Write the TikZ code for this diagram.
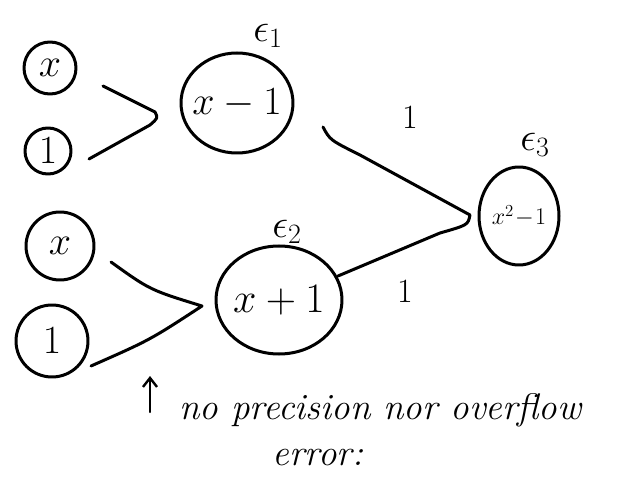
\RequirePackage{fix-cm}
\documentclass[tikz,border=0pt]{standalone}
\usetikzlibrary{arrows.meta,shapes.geometric}
\begin{document}
\begin{tikzpicture}[x=1pt,y=-1pt,
  pen/.style={line width=3pt,line cap=round,line join=round},
  inp/.style={pen,draw,circle,inner sep=0pt,font=\fontsize{40}{42}\selectfont},
  op/.style={pen,draw,ellipse,inner sep=0pt,font=\fontsize{40}{42}\selectfont},
  lbl/.style={font=\fontsize{40}{42}\selectfont},
  wt/.style={font=\fontsize{34}{36}\selectfont},
  note/.style={font=\fontsize{37}{39}\selectfont\itshape}]
\useasboundingbox (0,0) rectangle (622,484);
% inputs
\node[inp,minimum size=52pt] (x1) at (50,68) {$x$};
\node[inp,minimum size=46pt] (o1) at (48,151) {$1$};
\node[inp,minimum size=68pt] (x2) at (60,246) {$x$};
\node[inp,minimum size=72pt] (o2) at (52,341) {$1$};
% operations
\node[op,inner xsep=-7pt,minimum width=112pt,minimum height=100pt] (m1) at (237,103) {$x-1$};
\node[op,inner xsep=-6pt,minimum width=126pt,minimum height=108pt,font=\fontsize{42}{44}\selectfont] (p1) at (279,300) {$x+1$};
\node[op,inner xsep=-4pt,minimum width=80pt,minimum height=98pt,font=\fontsize{24}{26}\selectfont] (r) at (519,216) {$x^2\!-\!1$};
% error labels
\node[lbl] (e1) at (268,36) {$\epsilon_1$};
\node[lbl] (e2) at (287,232) {$\epsilon_2$};
\node[lbl] (e3) at (535,145) {$\epsilon_3$};
% joining brackets
\coordinate (a1) at (103,86);
\coordinate (t1) at (155,112);
\coordinate (b1) at (89,159);
\draw[pen] (a1) -- (t1) .. controls (158,118) .. (150,125) -- (b1);
\coordinate (a2) at (111,262);
\coordinate (t2) at (202,306);
\coordinate (b2) at (91,366);
\draw[pen] (a2) .. controls (150,290) .. (t2) .. controls (150,340) .. (b2);
\coordinate (a3) at (323,127);
\coordinate (t3) at (470,215);
\coordinate (b3) at (338,276);
\draw[pen] (a3) .. controls (330,140) .. (360,155) -- (t3) .. controls (468,225) .. (440,233) -- (b3);
% edge weights
\node[wt] (w1) at (410,118) {$1$};
\node[wt] (w2) at (405,292) {$1$};
% note
\coordinate (ar) at (150,376);
\node (an) at (150,412) {};
\draw[pen,line width=2.4pt,-{Straight Barb[length=9pt,width=14pt]}] (an.center) -- (ar);
\node[note,anchor=west] (n1) at (176,410) {no precision nor overflow};
\node[note] (n2) at (318,458) {error:};
\end{tikzpicture}
\end{document}
